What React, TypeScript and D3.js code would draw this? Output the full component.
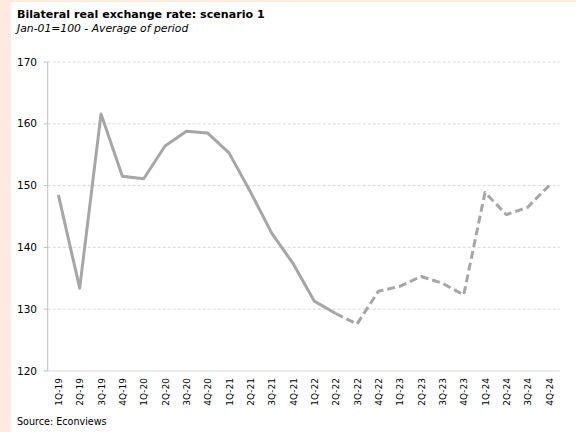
import React from "react";
import * as d3 from "d3";

const categories = [
  "1Q-19","2Q-19","3Q-19","4Q-19","1Q-20","2Q-20","3Q-20","4Q-20",
  "1Q-21","2Q-21","3Q-21","4Q-21","1Q-22","2Q-22","3Q-22","4Q-22",
  "1Q-23","2Q-23","3Q-23","4Q-23","1Q-24","2Q-24","3Q-24","4Q-24",
];
const values = [
  148.5, 133.4, 161.6, 151.5, 151.1, 156.4, 158.8, 158.5,
  155.3, 149.0, 142.3, 137.4, 131.3, 129.3, 127.6, 132.9,
  133.7, 135.3, 134.2, 132.3, 148.9, 145.3, 146.5, 150.0,
];
const forecastStart = 13; // index where dashed (projection) segment begins
const yTicks = [120, 130, 140, 150, 160, 170];
const title = "Bilateral real exchange rate: scenario 1";
const subtitle = "Jan-01=100 - Average of period";
const source = "Source: Econviews";

const W = 576, H = 432;
const left = 47.7, right = 559.7, top = 62, bottom = 371;

export default function App() {
  const x = d3.scaleBand<string>().domain(categories).range([left, right]);
  const y = d3.scaleLinear().domain([120, 170]).range([bottom, top]);
  const cx = (i: number) => (x(categories[i]) as number) + x.bandwidth() / 2;
  const pts = values.map((v, i) => [cx(i), y(v)] as [number, number]);
  const gen = d3.line();
  const solid = gen(pts.slice(0, forecastStart + 1)) || "";
  const dashed = gen(pts.slice(forecastStart)) || "";

  return (
    <svg width={W} height={H} style={{ position: "absolute", left: 0, top: 0, display: "block" }}
      fontFamily="'DejaVu Sans', Verdana, sans-serif">
      <rect x={0} y={0} width={W} height={H} fill="#fdebdf" />
      <rect x={11} y={2} width={W - 11} height={H - 2} fill="#ffffff" />
      <text x={17} y={18} fontSize={11.1} fontWeight="bold" fill="#000">{title}</text>
      <text x={17} y={32} fontSize={10.8} fontStyle="italic" fill="#000">{subtitle}</text>
      {yTicks.map((t) => (
        <g key={t}>
          {t !== 120 && (
            <line x1={left} x2={right} y1={y(t)} y2={y(t)} stroke="#d9d9d9" strokeWidth={1} strokeDasharray="3,2" />
          )}
          <line x1={left - 4} x2={left} y1={y(t)} y2={y(t)} stroke="#bfbfbf" strokeWidth={1} />
          <text x={37} y={y(t)} dy="0.35em" textAnchor="end" fontSize={10.5} fill="#000">{t}</text>
        </g>
      ))}
      <line x1={left} x2={left} y1={top} y2={bottom} stroke="#bfbfbf" strokeWidth={1} />
      <line x1={left} x2={right} y1={bottom} y2={bottom} stroke="#d9d9d9" strokeWidth={1} />
      {categories.map((c, i) => (
        <text key={c} transform={`translate(${cx(i) + 3.5},${bottom + 7}) rotate(-90)`}
          textAnchor="end" fontSize={9} fill="#000">{c}</text>
      ))}
      <path d={solid} fill="none" stroke="#a6a6a6" strokeWidth={3} strokeLinejoin="round" />
      <path d={dashed} fill="none" stroke="#a6a6a6" strokeWidth={3} strokeDasharray="8,4" strokeLinejoin="round" />
      <text x={17} y={425} fontSize={9.6} fill="#000">{source}</text>
    </svg>
  );
}
